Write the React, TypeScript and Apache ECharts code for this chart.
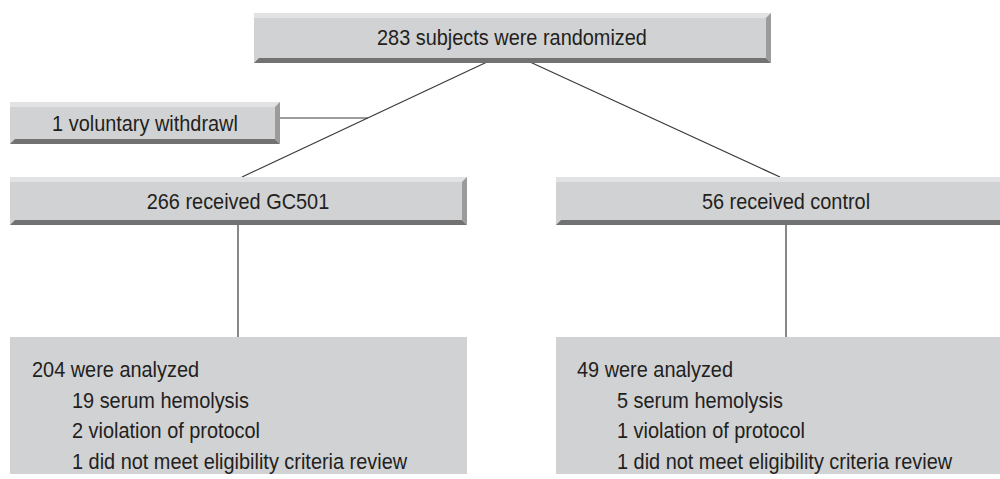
import React, { useEffect, useRef } from "react";
import * as echarts from "echarts";

const topLabel = "283 subjects were randomized";
const withdrawLabel = "1 voluntary withdrawl";
const armLabels = ["266 received GC501", "56 received control"];
const analyzedLabels = ["204 were analyzed", "49 were analyzed"];
const excludedGC501 = ["19 serum hemolysis", "2 violation of protocol", "1 did not meet eligibility criteria review"];
const excludedControl = ["5 serum hemolysis", "1 violation of protocol", "1 did not meet eligibility criteria review"];

const FONT = '"Liberation Sans", Arial, sans-serif';
const FONT_SIZE = 22;
const FILL = "#d1d2d4";
const TEXT = "#231f20";
const LINE = "#3a3a3a";

function measureScale(): number {
  try {
    const c = document.createElement("canvas");
    const ctx = c.getContext("2d");
    if (!ctx) return 0.85;
    ctx.font = `${FONT_SIZE}px ${FONT}`;
    const w = ctx.measureText(topLabel).width;
    return w > 0 ? 270 / w : 0.85;
  } catch (e) {
    return 0.85;
  }
}

function bevelBox(x: number, y: number, w: number, h: number, b: number, rightBevel: boolean): any[] {
  const els: any[] = [];
  els.push({ type: "rect", shape: { x, y, width: w, height: h }, style: { fill: FILL } });
  els.push({
    type: "polygon",
    shape: { points: [[x, y], [x + w, y], [x + w - (rightBevel ? b : 0), y + b], [x, y + b]] },
    style: { fill: "#e1e2e3" },
  });
  els.push({
    type: "polygon",
    shape: { points: [[x + b, y + h - b], [x + w - (rightBevel ? b : 0), y + h - b], [x + w, y + h], [x, y + h]] },
    style: { fill: "#727272" },
  });
  if (rightBevel) {
    els.push({
      type: "polygon",
      shape: { points: [[x + w - b, y + b], [x + w, y], [x + w, y + h], [x + w - b, y + h - b]] },
      style: { fill: "#9b9b9b" },
    });
  }
  return els;
}

export default function App() {
  const ref = useRef<HTMLDivElement>(null);
  useEffect(() => {
    if (!ref.current) return;
    const chart = echarts.init(ref.current, undefined, { renderer: "svg" });
    const sx = measureScale();
    const label = (text: string, x: number, y: number, align: string = "center"): any => ({
      type: "text",
      x,
      y,
      scaleX: sx,
      style: { text, fill: TEXT, font: `${FONT_SIZE}px ${FONT}`, textAlign: align, textVerticalAlign: "middle" },
    });
    const line = (x1: number, y1: number, x2: number, y2: number): any => ({
      type: "line",
      shape: { x1, y1, x2, y2 },
      style: { stroke: LINE, lineWidth: 1.2 },
    });
    const els: any[] = [];
    els.push(line(487, 62, 242, 177));
    els.push(line(530, 62, 780, 177));
    els.push(line(280, 118, 368, 118));
    els.push(line(238, 225, 238, 337));
    els.push(line(786, 225, 786, 337));
    els.push(...bevelBox(254, 13, 517, 50, 5, true));
    els.push(...bevelBox(10, 102, 270, 42, 5, true));
    els.push(...bevelBox(10, 177, 457, 48, 5, true));
    els.push(...bevelBox(556, 177, 460, 48, 5, false));
    els.push({ type: "rect", shape: { x: 10, y: 337, width: 457, height: 137 }, style: { fill: FILL } });
    els.push({ type: "rect", shape: { x: 556, y: 337, width: 460, height: 137 }, style: { fill: FILL } });
    els.push(label(topLabel, 512, 37));
    els.push(label(withdrawLabel, 145, 123));
    els.push(label(armLabels[0], 238, 201));
    els.push(label(armLabels[1], 786, 201));
    els.push(label(analyzedLabels[0], 32, 369, "left"));
    els.push(label(analyzedLabels[1], 577, 369, "left"));
    excludedGC501.forEach((t, i) => els.push(label(t, 72, 400 + i * 30.5, "left")));
    excludedControl.forEach((t, i) => els.push(label(t, 617, 400 + i * 30.5, "left")));
    chart.setOption({ animation: false, graphic: { elements: els } });
    return () => chart.dispose();
  }, []);
  return <div ref={ref} style={{ width: 1000, height: 479, position: "absolute", left: 0, top: 0, background: "#fff" }} />;
}
